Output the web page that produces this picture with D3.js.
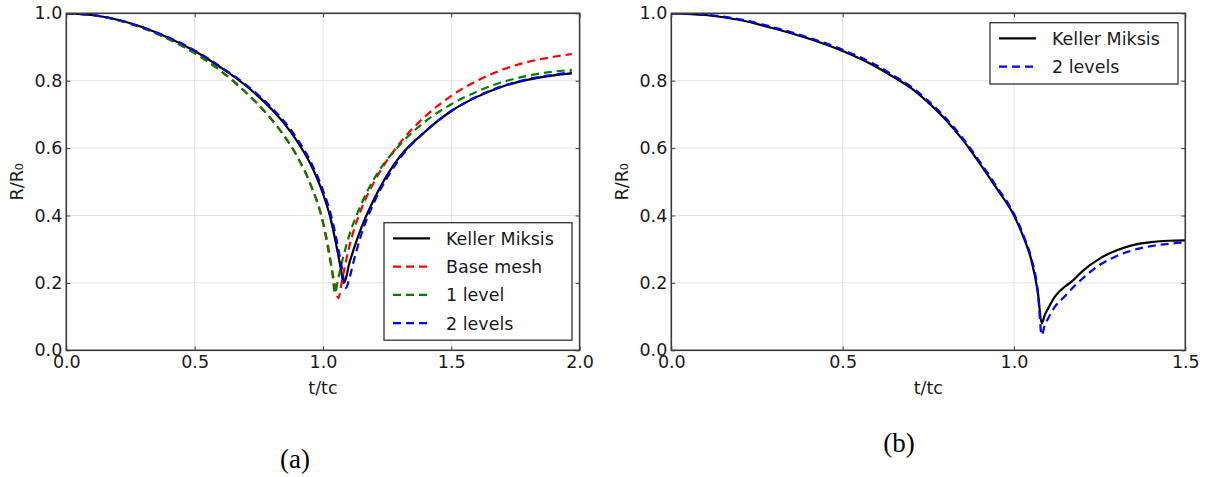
<!DOCTYPE html>
<html>
<head>
<meta charset="utf-8">
<script src="https://cdn.jsdelivr.net/npm/d3@7"></script>
<style>
  html, body { margin: 0; padding: 0; background: #fff; }
  svg { display: block; }
  .tick text { font-family: "DejaVu Sans", sans-serif; font-size: 17.5px; fill: #1a1a1a; }
</style>
</head>
<body>
<svg id="fig" width="1211" height="477"></svg>
<script>
// ---- Panel (a): bubble radius history, R/R0 versus t/tc ----
const kmA_t = [0,0.1,0.2,0.3,0.4,0.5,0.6,0.7,0.8,0.85,0.9,0.95,1.0,1.03,1.05,1.07,1.08,1.09,1.1,1.12,1.15,1.2,1.25,1.3,1.4,1.5,1.6,1.7,1.8,1.9,1.97];
const kmA_R = [1.0,0.995,0.981,0.958,0.927,0.888,0.84,0.785,0.715,0.672,0.62,0.555,0.465,0.39,0.32,0.24,0.2,0.215,0.25,0.3,0.365,0.45,0.52,0.575,0.65,0.71,0.752,0.783,0.803,0.816,0.822];

const baseA_t = [0,0.1,0.2,0.3,0.4,0.5,0.6,0.7,0.8,0.85,0.9,0.95,1.0,1.02,1.04,1.06,1.075,1.1,1.15,1.2,1.3,1.4,1.5,1.6,1.7,1.8,1.9,1.97];
const baseA_R = [1.0,0.995,0.98,0.956,0.923,0.882,0.83,0.765,0.685,0.635,0.575,0.495,0.38,0.3,0.22,0.155,0.21,0.3,0.42,0.5,0.615,0.695,0.755,0.8,0.833,0.856,0.871,0.879];

const lev1A_t = [0,0.1,0.2,0.3,0.4,0.5,0.6,0.7,0.8,0.85,0.9,0.95,1.0,1.02,1.035,1.047,1.06,1.08,1.1,1.15,1.2,1.3,1.4,1.5,1.6,1.7,1.8,1.9,1.97];
const lev1A_R = [1.0,0.995,0.98,0.956,0.923,0.882,0.83,0.765,0.685,0.635,0.575,0.495,0.38,0.31,0.24,0.17,0.215,0.28,0.335,0.435,0.51,0.61,0.68,0.73,0.768,0.796,0.815,0.827,0.832];

const lev2A_t = [0,0.1,0.2,0.3,0.4,0.5,0.6,0.7,0.8,0.85,0.9,0.95,1.0,1.03,1.05,1.07,1.09,1.1,1.12,1.15,1.2,1.25,1.3,1.4,1.5,1.6,1.7,1.8,1.9,1.97];
const lev2A_R = [1.0,0.995,0.981,0.958,0.928,0.89,0.842,0.788,0.72,0.678,0.627,0.563,0.475,0.405,0.34,0.26,0.185,0.205,0.265,0.345,0.44,0.512,0.57,0.65,0.71,0.753,0.784,0.805,0.818,0.825];

// ---- Panel (b) ----
const kmB_t = [0,0.1,0.2,0.3,0.4,0.5,0.6,0.65,0.7,0.75,0.8,0.85,0.9,0.95,1.0,1.03,1.05,1.07,1.081,1.09,1.1,1.12,1.15,1.17,1.2,1.25,1.3,1.35,1.4,1.45,1.5];
const kmB_R = [1.0,0.995,0.98,0.955,0.925,0.888,0.84,0.81,0.778,0.735,0.685,0.625,0.555,0.48,0.4,0.33,0.27,0.17,0.08,0.105,0.125,0.16,0.19,0.205,0.235,0.272,0.297,0.313,0.321,0.325,0.326];

const lev2B_t = [0,0.1,0.2,0.3,0.4,0.5,0.6,0.65,0.7,0.75,0.8,0.85,0.9,0.95,1.0,1.03,1.05,1.07,1.081,1.09,1.1,1.12,1.15,1.17,1.2,1.25,1.3,1.35,1.4,1.45,1.5];
const lev2B_R = [1.0,0.996,0.982,0.958,0.928,0.892,0.845,0.814,0.782,0.74,0.69,0.63,0.56,0.485,0.405,0.335,0.275,0.17,0.045,0.075,0.095,0.13,0.162,0.184,0.213,0.253,0.28,0.298,0.309,0.316,0.32];

const seriesNamesA = ["Keller Miksis", "Base mesh", "1 level", "2 levels"];
const seriesNamesB = ["Keller Miksis", "2 levels"];
const xTicksA = [0, 0.5, 1.0, 1.5, 2.0];
const xTicksB = [0, 0.5, 1.0, 1.5];
const yTicks = [0, 0.2, 0.4, 0.6, 0.8, 1.0];
const panelLabels = ["(a)", "(b)"];

const svg = d3.select("#fig");
const FRAME = "#3c3c3c";
const GRID = "#e4e4e4";
const tickFmt = d3.format(".1f");

function zip(ts, rs) { return ts.map((t, i) => ({ t, r: rs[i] })); }

function panel(opts) {
  const { x0, x1, y0, y1, xMax, xTicks, series, legend, id } = opts;
  const x = d3.scaleLinear().domain([0, xMax]).range([x0, x1]);
  const y = d3.scaleLinear().domain([0, 1]).range([y1, y0]);
  const g = svg.append("g");

  // grid
  g.append("g").selectAll("line").data(xTicks).join("line")
    .attr("x1", d => x(d)).attr("x2", d => x(d)).attr("y1", y0).attr("y2", y1)
    .attr("stroke", GRID).attr("stroke-width", 1);
  g.append("g").selectAll("line").data(yTicks).join("line")
    .attr("y1", d => y(d)).attr("y2", d => y(d)).attr("x1", x0).attr("x2", x1)
    .attr("stroke", GRID).attr("stroke-width", 1);

  // curves
  g.append("clipPath").attr("id", id).append("rect")
    .attr("x", x0).attr("y", y0).attr("width", x1 - x0).attr("height", y1 - y0);
  const line = d3.line().x(d => x(d.t)).y(d => y(d.r)).curve(d3.curveMonotoneX);
  const cg = g.append("g").attr("clip-path", `url(#${id})`);
  series.forEach(s => {
    cg.append("path").attr("d", line(s.data))
      .attr("fill", "none").attr("stroke", s.color).attr("stroke-width", 2.2)
      .attr("stroke-dasharray", s.dash ? "8,5" : null)
      .attr("stroke-linejoin", "round");
  });

  // axes with inward ticks
  const ax = (gen, tx, ty) => g.append("g").attr("transform", `translate(${tx},${ty})`).call(gen)
    .call(s => { s.select(".domain").remove(); s.selectAll(".tick line").attr("stroke", FRAME).attr("stroke-width", 1); });
  ax(d3.axisBottom(x).tickValues(xTicks).tickFormat(tickFmt).tickSizeInner(-4).tickSizeOuter(0).tickPadding(5), 0, y1);
  ax(d3.axisTop(x).tickValues(xTicks).tickFormat("").tickSizeInner(-4).tickSizeOuter(0), 0, y0);
  ax(d3.axisLeft(y).tickValues(yTicks).tickFormat(tickFmt).tickSizeInner(-4).tickSizeOuter(0).tickPadding(4), x0, 0);
  ax(d3.axisRight(y).tickValues(yTicks).tickFormat("").tickSizeInner(-4).tickSizeOuter(0), x1, 0);
  g.selectAll(".tick text").attr("font-family", null).attr("font-size", null);

  // frame
  g.append("rect").attr("x", x0).attr("y", y0).attr("width", x1 - x0).attr("height", y1 - y0)
    .attr("fill", "none").attr("stroke", FRAME).attr("stroke-width", 1.6);

  // axis titles
  g.append("text").attr("x", (x0 + x1) / 2).attr("y", 394).attr("text-anchor", "middle")
    .attr("font-family", "DejaVu Sans, sans-serif").attr("font-size", 17.5).attr("fill", "#1a1a1a")
    .text("t/tc");
  g.append("text").attr("transform", `translate(${x0 - 43},${(y0 + y1) / 2}) rotate(-90)`)
    .attr("text-anchor", "middle")
    .attr("font-family", "DejaVu Sans, sans-serif").attr("font-size", 17.5).attr("fill", "#1a1a1a")
    .text("R/R₀");

  // legend
  const lg = g.append("g");
  lg.append("rect").attr("x", legend.x).attr("y", legend.y).attr("width", legend.w).attr("height", legend.h)
    .attr("fill", "#fff").attr("stroke", "#333").attr("stroke-width", 1.3);
  series.forEach((s, i) => {
    const yy = legend.y + 15.6 + i * 28.3;
    lg.append("line").attr("x1", legend.x + 9).attr("x2", legend.x + 46).attr("y1", yy).attr("y2", yy)
      .attr("stroke", s.color).attr("stroke-width", 2.2).attr("stroke-dasharray", s.dash ? "8,5" : null);
    lg.append("text").attr("x", legend.x + 62).attr("y", yy).attr("dy", "0.36em")
      .attr("font-family", "DejaVu Sans, sans-serif").attr("font-size", 17.5).attr("fill", "#1a1a1a")
      .text(s.name);
  });
}

panel({
  id: "clipA", x0: 66.3, x1: 579.6, y0: 13.3, y1: 350.3, xMax: 2.0, xTicks: xTicksA,
  series: [
    { name: seriesNamesA[0], data: zip(kmA_t, kmA_R), color: "#000000", dash: false },
    { name: seriesNamesA[1], data: zip(baseA_t, baseA_R), color: "#ff0000", dash: true },
    { name: seriesNamesA[2], data: zip(lev1A_t, lev1A_R), color: "#008000", dash: true },
    { name: seriesNamesA[3], data: zip(lev2A_t, lev2A_R), color: "#0000ff", dash: true }
  ],
  legend: { x: 384, y: 222.7, w: 188, h: 117.5 }
});

panel({
  id: "clipB", x0: 671.3, x1: 1185.3, y0: 13.3, y1: 350.3, xMax: 1.5, xTicks: xTicksB,
  series: [
    { name: seriesNamesB[0], data: zip(kmB_t, kmB_R), color: "#000000", dash: false },
    { name: seriesNamesB[1], data: zip(lev2B_t, lev2B_R), color: "#0000ff", dash: true }
  ],
  legend: { x: 990, y: 22.7, w: 188, h: 61.3 }
});

// sub-figure captions
svg.append("text").attr("x", 295).attr("y", 468).attr("text-anchor", "middle")
  .attr("font-family", "Liberation Serif, Times New Roman, serif").attr("font-size", 27).attr("fill", "#000")
  .text(panelLabels[0]);
svg.append("text").attr("x", 899).attr("y", 452).attr("text-anchor", "middle")
  .attr("font-family", "Liberation Serif, Times New Roman, serif").attr("font-size", 27).attr("fill", "#000")
  .text(panelLabels[1]);
</script>
</body>
</html>
